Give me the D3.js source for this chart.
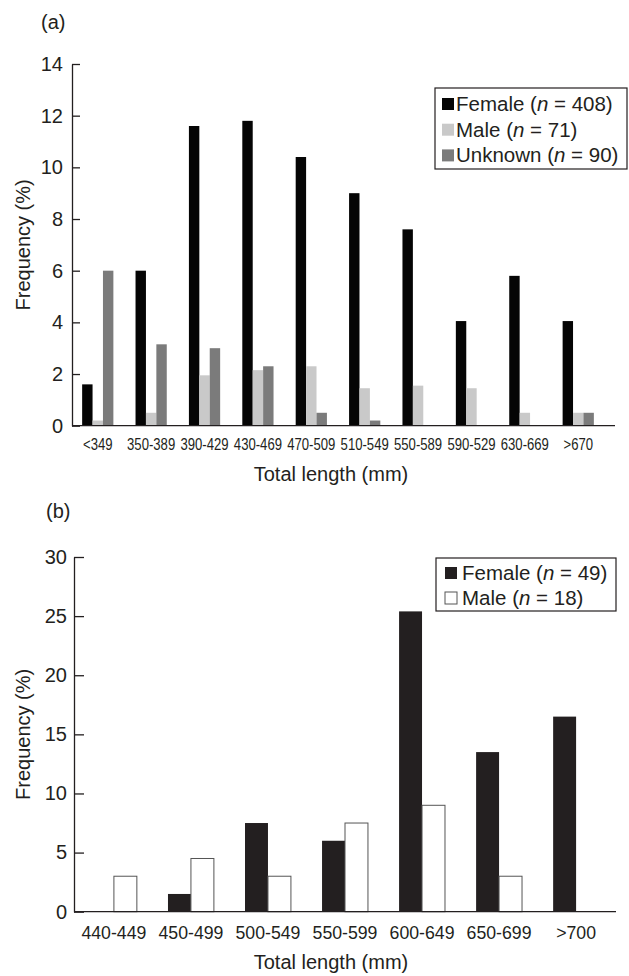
<html>
  <head>
    <title>Total length frequency</title>
    <script src="https://d3js.org/d3.v7.min.js"></script>
    <style>
      body { margin: 0; background: #fff; }
      text { font-family: "Liberation Sans", Arial, Helvetica, sans-serif; fill: #231f20; }
    </style>
  </head>
  <body>
    <svg width="629" height="976" id="chart"></svg>
  </body>

  <script type="text/javascript">

    // panel (a)
    var catsA = ["<349","350-389","390-429","430-469","470-509","510-549","550-589","590-529","630-669",">670"];
    var femaleA = [1.6, 6.0, 11.6, 11.8, 10.4, 9.0, 7.6, 4.05, 5.8, 4.05];
    var maleA = [0.2, 0.5, 1.95, 2.15, 2.3, 1.45, 1.55, 1.45, 0.5, 0.5];
    var unknownA = [6.0, 3.15, 3.0, 2.3, 0.5, 0.2, 0, 0, 0, 0.5];
    var ticksA = [0, 2, 4, 6, 8, 10, 12, 14];
    var legendA = [["Female", "408"], ["Male", "71"], ["Unknown", "90"]];

    // panel (b)
    var catsB = ["440-449","450-499","500-549","550-599","600-649","650-699",">700"];
    var femaleB = [0, 1.5, 7.5, 6.0, 25.4, 13.5, 16.5];
    var maleB = [3.0, 4.5, 3.0, 7.5, 9.0, 3.0, 0];
    var ticksB = [0, 5, 10, 15, 20, 25, 30];
    var legendB = [["Female", "49"], ["Male", "18"]];

    var svg = d3.select("#chart");
    var ink = "#231f20";

    function panel(o) {
        var g = svg.append("g");

        var y = d3.scaleLinear().domain([0, o.ymax]).range([o.y0, o.y1]);
        var x = d3.scaleBand().domain(o.cats).range([o.x0, o.xBarEnd])
            .paddingInner(o.pin).paddingOuter(o.pout);
        var xs = d3.scaleBand().domain(o.series.map(function(s){ return s.name; }))
            .range([0, x.bandwidth()]);

        // bars (zero values are skipped)
        o.series.forEach(function(s){
            var rows = s.values.map(function(v, i){ return {cat: o.cats[i], v: v}; })
                .filter(function(d){ return d.v > 0; });
            g.append("g").selectAll("rect")
                .data(rows)
                .enter().append("rect")
                .attr("x", function(d){ return x(d.cat) + xs(s.name); })
                .attr("y", function(d){ return y(d.v); })
                .attr("width", xs.bandwidth())
                .attr("height", function(d){ return y(0) - y(d.v); })
                .attr("fill", s.fill)
                .attr("stroke", s.stroke || "none")
                .attr("stroke-width", s.stroke ? 1 : 0);
        });

        // y axis
        var yAxis = d3.axisLeft(y).tickValues(o.ticks).tickSizeInner(-o.tick).tickSizeOuter(0).tickPadding(o.ypad);
        var ya = g.append("g").attr("transform", "translate(" + o.x0 + ",0)").call(yAxis);
        ya.selectAll("path, line").attr("stroke", ink).attr("stroke-width", 1.3);
        ya.selectAll("text").style("font-size", "20px").attr("fill", ink);

        // x axis
        var xAxis = d3.axisBottom(x).tickSize(0).tickPadding(o.xpad);
        var xa = g.append("g").attr("transform", "translate(0," + o.y0 + ")").call(xAxis);
        xa.select(".domain").remove();
        xa.selectAll("text").style("font-size", o.xfont).attr("fill", ink)
            .attr("transform", "scale(" + o.xsquash + ",1)");
        g.append("line")
            .attr("x1", o.x0).attr("x2", o.x1)
            .attr("y1", o.y0).attr("y2", o.y0)
            .attr("stroke", ink).attr("stroke-width", 1.3);

        // labels
        g.append("text").attr("x", o.tx).attr("y", o.ty).style("font-size", "20px").text(o.title);
        g.append("text")
            .attr("transform", "translate(30," + (o.y0 + o.y1) / 2 + ") rotate(-90)")
            .attr("text-anchor", "middle").style("font-size", "20px")
            .text("Frequency (%)");
        g.append("text").attr("x", 331).attr("y", o.xlabY)
            .attr("text-anchor", "middle").style("font-size", "20px")
            .text("Total length (mm)");

        // legend
        var L = o.legend;
        g.append("rect").attr("x", L.x).attr("y", L.y).attr("width", L.w).attr("height", L.h)
            .attr("fill", "#fff").attr("stroke", ink).attr("stroke-width", 1.2);
        o.series.forEach(function(s, i){
            var by = L.y + L.first + i * L.step;
            g.append("rect").attr("x", L.sx).attr("y", by - 13).attr("width", 12).attr("height", 12)
                .attr("fill", s.fill).attr("stroke", s.stroke || "none").attr("stroke-width", s.stroke ? 1 : 0);
            var t = g.append("text").attr("x", L.tx).attr("y", by).style("font-size", L.font);
            t.append("tspan").text(o.legendText[i][0] + " (");
            t.append("tspan").style("font-style", "italic").text("n");
            t.append("tspan").text(" = " + o.legendText[i][1] + ")");
        });
    }

    panel({
        cats: catsA, ymax: 14, ticks: ticksA,
        y0: 425.7, y1: 64, x0: 72, x1: 615, xBarEnd: 604, pin: 0.415, pout: 0.19,
        tick: 8, ypad: 9, xpad: 13, xfont: "16px", xsquash: 0.82,
        series: [
            {name: "f", values: femaleA, fill: "#050505"},
            {name: "m", values: maleA, fill: "#c9c9c9"},
            {name: "u", values: unknownA, fill: "#7b7b7b"}
        ],
        title: "(a)", tx: 41, ty: 29, xlabY: 481,
        legend: {x: 435, y: 88, w: 192, h: 81, sx: 442, tx: 456, first: 23, step: 25.7, font: "20.5px"},
        legendText: legendA
    });

    panel({
        cats: catsB, ymax: 30, ticks: ticksB,
        y0: 911.7, y1: 557, x0: 74, x1: 616, xBarEnd: 616, pin: 0.404, pout: 0.22,
        tick: 10, ypad: 7, xpad: 15, xfont: "17.7px", xsquash: 1,
        series: [
            {name: "f", values: femaleB, fill: "#231f20"},
            {name: "m", values: maleB, fill: "#ffffff", stroke: "#555"}
        ],
        title: "(b)", tx: 46, ty: 518, xlabY: 969,
        legend: {x: 436, y: 558, w: 180, h: 53, sx: 445, tx: 462, first: 22, step: 25, font: "20.5px"},
        legendText: legendB
    });

  </script>
</html>
